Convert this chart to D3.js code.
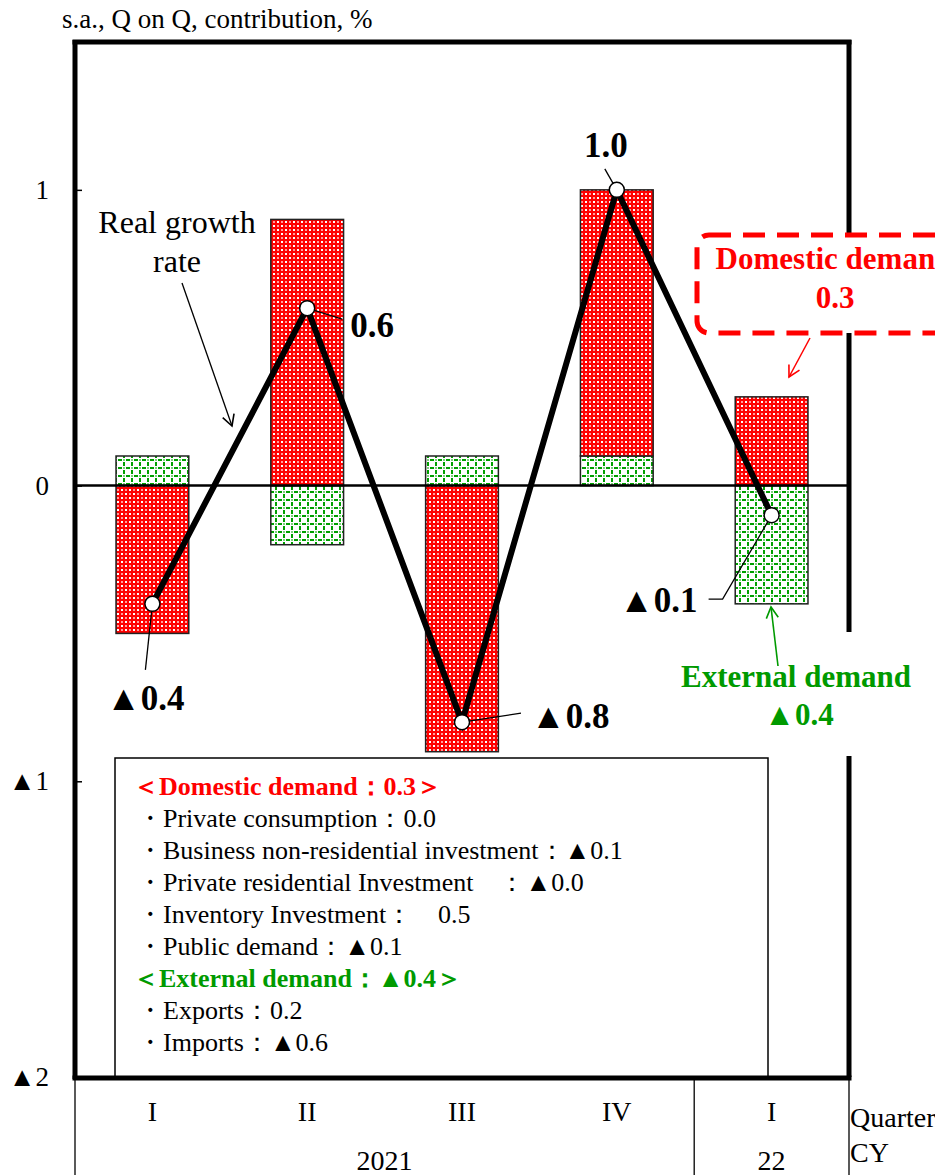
<!DOCTYPE html>
<html>
<head>
<meta charset="utf-8">
<script src="https://cdn.jsdelivr.net/npm/d3@7"></script>
<style>
  html, body { margin: 0; padding: 0; background: #fff; }
  svg { display: block; font-family: "Liberation Serif", "Times New Roman", serif; }
</style>
</head>
<body>
<script>
// Contributions to real GDP growth (s.a., Q on Q, %)
const quarters = ["I", "II", "III", "IV", "I"];
const quarterKeys = ["2021Q1", "2021Q2", "2021Q3", "2021Q4", "2022Q1"];
const years = [{ label: "2021", from: 0, to: 3 }, { label: "22", from: 4, to: 4 }];
const domestic = [-0.5, 0.9, -0.9, 0.9, 0.3];
const external = [0.1, -0.2, 0.1, 0.1, -0.4];
const realGrowth = [-0.4, 0.6, -0.8, 1.0, -0.1];
const yTicks = [-2, -1, 0, 1];

const breakdownDomestic = [
  ["Private consumption：", "0.0"],
  ["Business non-residential investment：", "▲0.1"],
  ["Private residential Investment　：", "▲0.0"],
  ["Inventory Investment：　", "0.5"],
  ["Public demand：", "▲0.1"]
];
const breakdownExternal = [
  ["Exports：", "0.2"],
  ["Imports：", "▲0.6"]
];
const domesticTotal = 0.3;
const externalTotal = -0.4;

const fmt = v => (v < 0 ? "▲" : "") + Math.abs(v).toFixed(1);

const W = 935, H = 1175;
const plotL = 75, plotR = 849, plotT = 42, plotB = 1077;
const RED = "#ff0000", GREEN = "#009a00";

const svg = d3.select("body").append("svg").attr("width", W).attr("height", H);
const defs = svg.append("defs");

// Hatched fills for the two contribution series
const pr = defs.append("pattern").attr("id", "patRed").attr("patternUnits", "userSpaceOnUse")
  .attr("width", 8).attr("height", 8);
pr.append("rect").attr("width", 8).attr("height", 8).attr("fill", RED);
[[1, 1], [5, 5]].forEach(([px, py]) => pr.append("rect").attr("x", px).attr("y", py).attr("width", 2).attr("height", 2).attr("fill", "#fff"));
[[1, 5], [5, 1]].forEach(([px, py]) => pr.append("rect").attr("x", px).attr("y", py).attr("width", 2).attr("height", 2).attr("fill", "#ff9a9a"));

const pg = defs.append("pattern").attr("id", "patGreen").attr("patternUnits", "userSpaceOnUse")
  .attr("width", 8).attr("height", 8);
pg.append("rect").attr("width", 8).attr("height", 8).attr("fill", "#fff");
[[3, 0], [0, 3], [3, 6], [6, 3]].forEach(([px, py]) => pg.append("rect").attr("x", px).attr("y", py).attr("width", 2).attr("height", 2).attr("fill", "#00a000"));
pg.append("rect").attr("x", 3).attr("y", 3).attr("width", 2).attr("height", 2).attr("fill", "#7fcf7f");

function arrowMarker(id, color) {
  defs.append("marker").attr("id", id).attr("viewBox", "-12 -8 14 16")
    .attr("refX", 0).attr("refY", 0).attr("markerWidth", 14).attr("markerHeight", 16)
    .attr("markerUnits", "userSpaceOnUse").attr("orient", "auto")
    .append("path").attr("d", "M-11,-6 L0,0 L-11,6").attr("fill", "none")
    .attr("stroke", color).attr("stroke-width", 1.6);
}
arrowMarker("arrBlack", "#000");
arrowMarker("arrRed", RED);
arrowMarker("arrGreen", GREEN);

// Scales
const x = d3.scaleBand().domain(quarterKeys).range([plotL, plotR]).paddingInner(0.53).paddingOuter(0.265);
const y = d3.scaleLinear().domain([-2, 1.5]).range([plotB, plotT]);
const cx = i => x(quarterKeys[i]) + x.bandwidth() / 2;

// Title
svg.append("text").attr("x", 62).attr("y", 28).attr("font-size", 27).text("s.a., Q on Q, contribution, %");

// Right frame line (partly covered by the annotation boxes)
svg.append("line").attr("x1", plotR).attr("x2", plotR).attr("y1", plotT - 2).attr("y2", plotB)
  .attr("stroke", "#000").attr("stroke-width", 5);

// Stacked contribution bars
const rows = quarterKeys.map((k, i) => ({ key: k, external: external[i], domestic: domestic[i] }));
const stack = d3.stack().keys(["external", "domestic"]).offset(d3.stackOffsetDiverging);
const series = stack(rows);
const fills = { external: "url(#patGreen)", domestic: "url(#patRed)" };
svg.append("g").selectAll("g").data(series).join("g")
  .attr("fill", d => fills[d.key])
  .selectAll("rect").data(d => d).join("rect")
  .attr("x", d => x(d.data.key))
  .attr("width", x.bandwidth())
  .attr("y", d => y(Math.max(d[0], d[1])))
  .attr("height", d => Math.abs(y(d[0]) - y(d[1])))
  .attr("stroke", "#222").attr("stroke-width", 1.5);

// Zero line
svg.append("line").attr("x1", plotL).attr("x2", plotR).attr("y1", y(0)).attr("y2", y(0))
  .attr("stroke", "#000").attr("stroke-width", 2.5);

// Value label leaders and labels for the real growth rate
const labelSpec = [
  { dx1: -7, dy1: 66, tx: -7, ty: 106, anchor: "middle" },
  { dx1: 35, dy1: 11, tx: 43, ty: 29, anchor: "start" },
  { dx1: 59, dy1: -9, tx: 69, ty: 6, anchor: "start" },
  { dx1: -12, dy1: -21, tx: -11, ty: -33, anchor: "middle" },
  { dx1: -49, dy1: 84, dx2: -63, tx: -74, ty: 97, anchor: "end" }
];
const lbl = svg.append("g");
realGrowth.forEach((v, i) => {
  const s = labelSpec[i];
  const px = cx(i), py = y(v);
  const pts = [[px, py], [px + s.dx1, py + s.dy1]];
  if (s.dx2 !== undefined) pts.push([px + s.dx2, py + s.dy1]);
  lbl.append("path").attr("d", d3.line()(pts)).attr("fill", "none").attr("stroke", "#000").attr("stroke-width", 1.3);
  lbl.append("text").attr("x", px + s.tx).attr("y", py + s.ty).attr("text-anchor", s.anchor)
    .attr("font-size", 35).attr("font-weight", "bold").text(fmt(v));
});

// Real growth rate line and markers
svg.append("path").datum(realGrowth)
  .attr("d", d3.line().x((d, i) => cx(i)).y(d => y(d)))
  .attr("fill", "none").attr("stroke", "#000").attr("stroke-width", 6).attr("stroke-linejoin", "miter");
svg.append("g").selectAll("circle").data(realGrowth).join("circle")
  .attr("cx", (d, i) => cx(i)).attr("cy", d => y(d)).attr("r", 7.5)
  .attr("fill", "#fff").attr("stroke", "#000").attr("stroke-width", 1.5);

// "Real growth rate" annotation
const rg = svg.append("g").attr("font-size", 32).attr("text-anchor", "middle");
rg.append("text").attr("x", 177).attr("y", 233).text("Real growth");
rg.append("text").attr("x", 177).attr("y", 272).text("rate");
svg.append("line").attr("x1", 182).attr("y1", 283).attr("x2", 232).attr("y2", 426)
  .attr("stroke", "#000").attr("stroke-width", 1.3).attr("marker-end", "url(#arrBlack)");

// Domestic demand callout
svg.append("rect").attr("x", 697).attr("y", 235).attr("width", 290).attr("height", 98).attr("rx", 12)
  .attr("fill", "#fff").attr("stroke", RED).attr("stroke-width", 5).attr("stroke-dasharray", "22,12");
const dc = svg.append("g").attr("fill", RED).attr("font-weight", "bold").attr("font-size", 31).attr("text-anchor", "middle");
dc.append("text").attr("x", 834).attr("y", 269).text("Domestic demand");
dc.append("text").attr("x", 835).attr("y", 308).text(domesticTotal.toFixed(1));
svg.append("line").attr("x1", 810).attr("y1", 338).attr("x2", 789).attr("y2", 377)
  .attr("stroke", RED).attr("stroke-width", 1.5).attr("marker-end", "url(#arrRed)");

// External demand callout
svg.append("rect").attr("x", 668).attr("y", 632).attr("width", 256).attr("height", 124).attr("fill", "#fff");
const ec = svg.append("g").attr("fill", GREEN).attr("font-weight", "bold").attr("font-size", 31).attr("text-anchor", "middle");
ec.append("text").attr("x", 796).attr("y", 687).text("External demand");
ec.append("text").attr("x", 799).attr("y", 725).text(fmt(externalTotal));
svg.append("line").attr("x1", 778).attr("y1", 666).attr("x2", 771).attr("y2", 607)
  .attr("stroke", GREEN).attr("stroke-width", 1.6).attr("marker-end", "url(#arrGreen)");

// Breakdown box
svg.append("rect").attr("x", 115).attr("y", 758).attr("width", 653).attr("height", plotB - 758)
  .attr("fill", "#fff").attr("stroke", "#000").attr("stroke-width", 1.5);
const lg = svg.append("g").attr("font-size", 26);
const lineY = i => 795 + i * 32;
lg.append("text").attr("x", 133).attr("y", lineY(0)).attr("fill", RED).attr("font-weight", "bold")
  .text("＜Domestic demand：" + domesticTotal.toFixed(1) + "＞");
breakdownDomestic.forEach((r, i) => {
  lg.append("text").attr("x", 137).attr("y", lineY(i + 1)).text("・" + r[0] + r[1]);
});
lg.append("text").attr("x", 133).attr("y", lineY(6)).attr("fill", GREEN).attr("font-weight", "bold")
  .text("＜External demand：" + fmt(externalTotal) + "＞");
breakdownExternal.forEach((r, i) => {
  lg.append("text").attr("x", 137).attr("y", lineY(i + 7)).text("・" + r[0] + r[1]);
});

// Left axis with labels
const yAxis = d3.axisLeft(y).tickValues(yTicks).tickSize(0).tickPadding(26)
  .tickFormat(d => d < 0 ? "▲" + Math.abs(d) : String(d));
const ya = svg.append("g").attr("transform", `translate(${plotL},0)`).call(yAxis);
ya.select(".domain").remove();
ya.selectAll("text").attr("font-size", 27).attr("font-family", "Liberation Serif").attr("fill", "#000");
ya.selectAll(".tick").append("line").attr("x1", 0).attr("x2", 7).attr("stroke", "#000").attr("stroke-width", 1.5);

// Frame: left axis, top, bottom
svg.append("line").attr("x1", plotL).attr("x2", plotL).attr("y1", plotT - 2).attr("y2", plotB + 2)
  .attr("stroke", "#000").attr("stroke-width", 5);
svg.append("line").attr("x1", plotL - 2.5).attr("x2", plotR + 2.5).attr("y1", plotT).attr("y2", plotT)
  .attr("stroke", "#000").attr("stroke-width", 5);
svg.append("line").attr("x1", plotL - 2.5).attr("x2", plotR + 2.5).attr("y1", plotB + 1).attr("y2", plotB + 1)
  .attr("stroke", "#000").attr("stroke-width", 5);

// Period table under the plot
const tb = svg.append("g");
const yearEdges = [plotL, x.step() * 4 + plotL, plotR];
yearEdges.forEach(xx => tb.append("line").attr("x1", xx).attr("x2", xx).attr("y1", plotB).attr("y2", H)
  .attr("stroke", "#000").attr("stroke-width", 1.3));
const xAxis = d3.axisBottom(x).tickSize(0).tickPadding(24).tickFormat((d, i) => quarters[i]);
const xa = svg.append("g").attr("transform", `translate(0,${plotB})`).call(xAxis);
xa.select(".domain").remove();
xa.selectAll("text").attr("font-size", 28).attr("font-family", "Liberation Serif").attr("fill", "#000");
years.forEach(yr => {
  const x0 = x(quarterKeys[yr.from]) - x.step() * x.paddingInner() / 2;
  const x1 = x(quarterKeys[yr.to]) + x.bandwidth() + x.step() * x.paddingInner() / 2;
  tb.append("text").attr("x", (x0 + x1) / 2).attr("y", 1170).attr("text-anchor", "middle")
    .attr("font-size", 28).text(yr.label);
});
tb.append("text").attr("x", plotR + 1).attr("y", 1127).attr("font-size", 28).text("Quarter");
tb.append("text").attr("x", plotR + 1).attr("y", 1162).attr("font-size", 28).text("CY");
</script>
</body>
</html>
